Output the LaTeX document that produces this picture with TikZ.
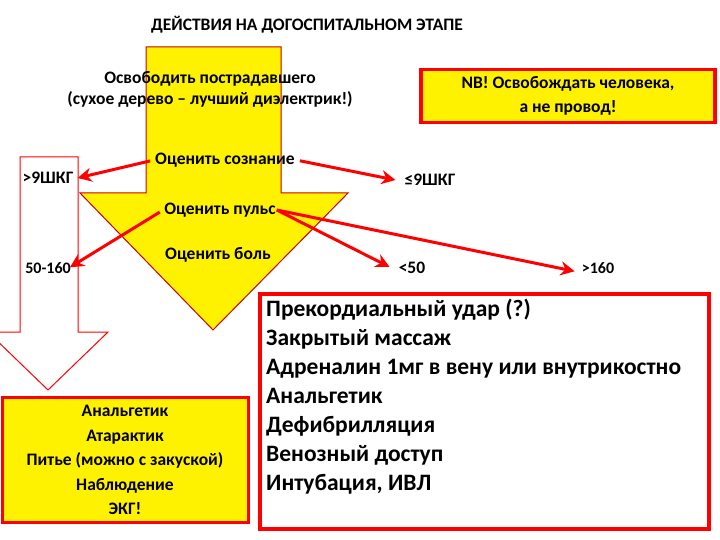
\documentclass[tikz,border=0pt]{standalone}
\usepackage{fontspec}
\setmainfont{Carlito}
\usetikzlibrary{arrows.meta}
\begin{document}
\begin{tikzpicture}[x=1pt,y=-1pt,
  lbl/.style={font=\bfseries\fontsize{17.5}{21}\selectfont,inner sep=1pt},
  rarr/.style={draw=red,line width=3pt,-{Stealth[length=14pt,width=14pt]}},
  box/.style={draw=red,line width=3.5pt}]
\useasboundingbox (0,0) rectangle (720,540);
\begin{scope}
\clip (0,0) rectangle (720,540);
\draw[red,line width=1pt,fill=white] (20,157) -- (78,157) -- (78,332) -- (108,332) -- (48,390) -- (-12,332) -- (20,332) -- cycle;
\end{scope}
\draw[red!80!black,line width=1pt,fill=yellow] (146,47) -- (281,47) -- (281,193) -- (348,193) -- (213,330) -- (80,193) -- (146,193) -- cycle;
\node[lbl] (t) at (307,25) {ДЕЙСТВИЯ НА ДОГОСПИТАЛЬНОМ ЭТАПЕ};
\node[lbl,align=center] (f) at (210,89) {Освободить пострадавшего\\(сухое дерево – лучший диэлектрик!)};
\node[box,fill=yellow,minimum width=294pt,minimum height=53pt,align=center,font=\bfseries\fontsize{17.5}{24}\selectfont] (nb) at (568,96) {NB! Освобождать человека,\\а не провод!};
\node[lbl] (s) at (225,160) {Оценить сознание};
\node[lbl] (p) at (220,210) {Оценить пульс};
\node[lbl] (b) at (218,255) {Оценить боль};
\node[lbl] (g1) at (48,178) {>9ШКГ};
\node[lbl] (g2) at (430,180) {≤9ШКГ};
\node[lbl,font=\bfseries\fontsize{16}{19}\selectfont] (p1) at (48,268) {50-160};
\node[lbl] (p2) at (412,268) {<50};
\node[lbl,font=\bfseries\fontsize{16}{19}\selectfont] (p3) at (598,268) {>160};
\draw[rarr,shorten <=4pt] (s.west) -- ([xshift=3pt]g1.east);
\draw[rarr,shorten <=4pt] (s.east) -- ([xshift=-8pt]g2.west);
\draw[rarr,shorten <=4pt] (p.west) -- ([xshift=-2pt,yshift=-6pt]p1.north east);
\draw[rarr] (p.east) -- ([xshift=-8pt,yshift=-6pt]p2.north west);
\draw[rarr] (p.east) -- ([xshift=-6pt,yshift=-10pt]p3.north west);
\node[box,fill=white,minimum width=449pt,minimum height=235pt,anchor=north west] (r) at (258,292) {};
\node[anchor=north west,align=left,font=\bfseries\fontsize{23.5}{29}\selectfont,inner sep=0pt] (rt) at (266,299) {Прекордиальный удар (?)\\Закрытый массаж\\Адреналин 1мг в вену или внутрикостно\\Анальгетик\\Дефибрилляция\\Венозный доступ\\Интубация, ИВЛ};
\node[box,line width=3pt,fill=yellow,minimum width=246pt,minimum height=125pt,align=center,font=\bfseries\fontsize{17.5}{24.5}\selectfont] (l) at (125,460) {Анальгетик\\Атарактик\\Питье (можно с закуской)\\Наблюдение\\ЭКГ!};
\end{tikzpicture}
\end{document}
